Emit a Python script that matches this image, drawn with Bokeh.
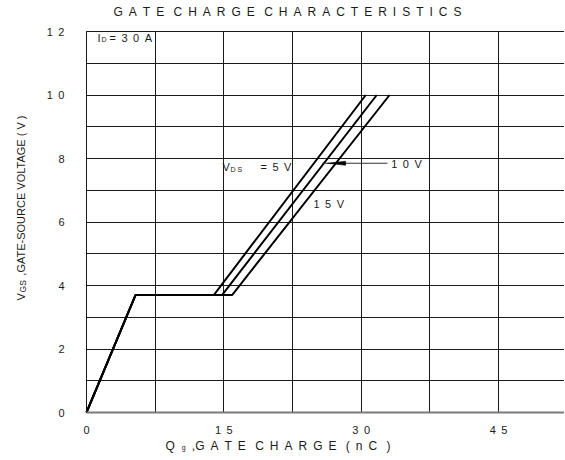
from bokeh.plotting import figure
from bokeh.models import Range1d, FixedTicker, Label
from bokeh.embed import file_html
from bokeh.resources import INLINE
import math

# ---- data ----
vgs_points = [0, 3.7, 3.7, 10]          # V_GS (V) at the curve break points
qg_vds_5v = [0, 5.35, 13.9, 30.5]       # Qg (nC), V_DS = 5 V
qg_vds_10v = [0, 5.35, 14.8, 31.7]      # Qg (nC), V_DS = 10 V
qg_vds_15v = [0, 5.35, 15.9, 33.1]      # Qg (nC), V_DS = 15 V

x_label_ticks = [0, 15, 30, 45]
x_grid_ticks = [0, 7.5, 15, 22.5, 30, 37.5, 45]
y_label_ticks = [0, 2, 4, 6, 8, 10, 12]
y_grid_ticks = [1, 2, 3, 4, 5, 6, 7, 8, 9, 10, 11, 12]

X_MAX = 52.2
Y_MAX = 12

EN = "\u2002"


def sp(word):
    return EN.join(word)


def sp_words(*words):
    return (EN + " ").join(sp(w) for w in words)


FONT = "Liberation Sans"
INK = "#1a1a1a"

W, H = 564, 459
PX_X0, PX_PER_NC = 86.0, 9.157     # where Qg = 0 sits, pixels per nC
PX_Y0, PX_PER_V = 412.0, 31.75     # where Vgs = 0 sits, pixels per V

p = figure(width=W, height=H,
           x_range=Range1d(-PX_X0 / PX_PER_NC, (W - PX_X0) / PX_PER_NC),
           y_range=Range1d((PX_Y0 - H) / PX_PER_V, PX_Y0 / PX_PER_V),
           output_backend="svg", toolbar_location=None,
           min_border_left=0, min_border_right=0, min_border_top=0, min_border_bottom=0)
p.outline_line_color = None
p.background_fill_color = "white"
p.border_fill_color = "white"

# grid (confined to the chart box)
p.xgrid.ticker = FixedTicker(ticks=x_grid_ticks)
p.xgrid.cross_bounds = (0, Y_MAX)
p.ygrid.ticker = FixedTicker(ticks=y_grid_ticks)
p.ygrid.cross_bounds = (0, X_MAX)
for g in (p.xgrid, p.ygrid):
    g.grid_line_color = INK
    g.grid_line_width = 1
    g.grid_line_alpha = 1

# axes placed on the chart box
p.xaxis.fixed_location = 0
p.xaxis.bounds = (0, X_MAX)
p.yaxis.fixed_location = 0
p.yaxis.bounds = (0, Y_MAX)
p.xaxis.ticker = FixedTicker(ticks=x_label_ticks)
p.xaxis.major_label_overrides = {t: EN.join(str(t)) for t in x_label_ticks}
p.yaxis.ticker = FixedTicker(ticks=y_label_ticks)
p.yaxis.major_label_overrides = {t: EN.join(str(t)) for t in y_label_ticks}
for ax in (p.xaxis, p.yaxis):
    ax.major_tick_line_color = None
    ax.minor_tick_line_color = None
    ax.major_tick_out = 0
    ax.major_tick_in = 0
    ax.minor_tick_out = 0
    ax.major_label_text_font = FONT
    ax.major_label_text_font_size = "11px"
    ax.major_label_text_color = INK
p.xaxis.axis_line_color = "#7a7a7a"
p.xaxis.axis_line_width = 2
p.xaxis.major_label_standoff = 11
p.yaxis.axis_line_color = INK
p.yaxis.axis_line_width = 1
p.yaxis.major_label_standoff = 22

# curves
for qg in (qg_vds_5v, qg_vds_10v, qg_vds_15v):
    p.line(qg, vgs_points, line_color="black", line_width=2)

# leader line and wedge for "10 V"
p.line([25.74, 32.87], [7.85, 7.85], line_color="#333333", line_width=1)
p.patch([26.3, 28.3, 28.3], [7.85, 7.915, 7.785], fill_color="black", line_color="black", line_width=0.5)


def lab(x, y, text, size="11px", align="left", angle=0.0):
    p.add_layout(Label(x=x, y=y, text=text, text_font=FONT, text_font_size=size,
                       text_color=INK, text_align=align, text_baseline="middle", angle=angle))


# title
lab(21.95, 12.6, sp_words("GATE", "CHARGE", "CHARACTERISTICS"), size="12px", align="center")

# I_D = 30 A
lab(1.2, 11.81, "I")
lab(1.64, 11.76, "D", size="7px")
lab(2.51, 11.81, EN.join("=30A"))

# V_DS = 5 V
lab(14.85, 7.72, "V")
lab(15.73, 7.66, "D S", size="7px")
lab(19.0, 7.72, EN.join("=5V"))

# 10 V / 15 V
lab(33.28, 7.84, EN.join("10V"))
lab(24.79, 6.58, EN.join("15V"))

# x axis title
lab(8.63, -1.04, "Q", size="12px")
lab(10.4, -1.1, "g", size="7px")
lab(11.5, -1.04, "," + sp_words("GATE", "CHARGE") + EN + " " + "(" + EN + "n" + EN + "C" + EN + " " + ")",
    size="12px")

# y axis title (rotated)
rot = math.pi / 2
lab(-7.1, 3.53, "V", size="11px", angle=rot)
lab(-6.95, 3.78, "GS", size="8.5px", angle=rot)
lab(-7.1, 4.31, ",GATE-SOURCE VOLTAGE ( V )", size="11px", angle=rot)

open("out.html", "w").write(file_html(p, INLINE))
